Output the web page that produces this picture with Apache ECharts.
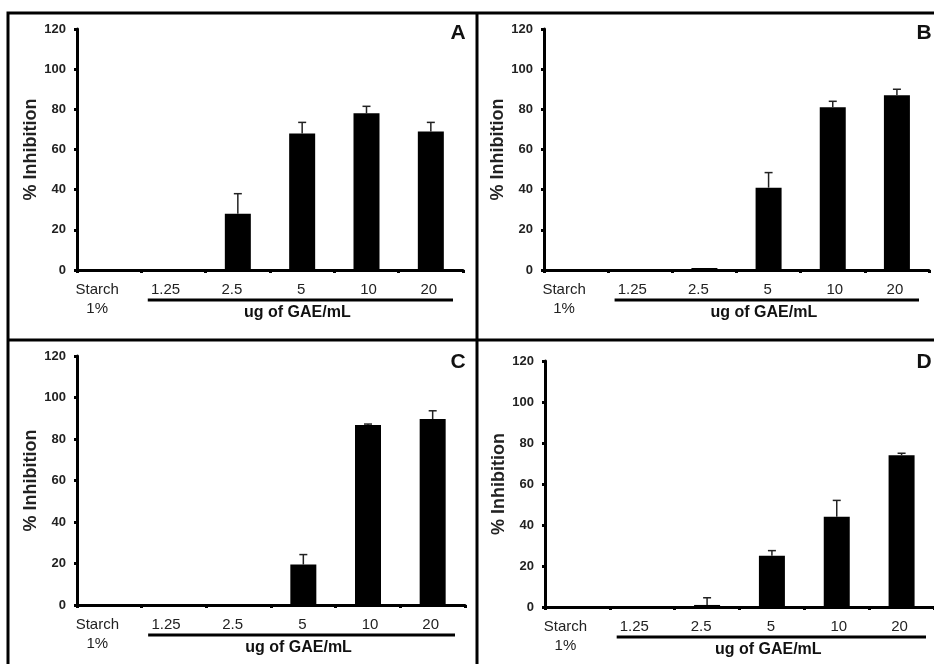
<!DOCTYPE html>
<html><head><meta charset="utf-8">
<script src="https://cdn.jsdelivr.net/npm/echarts@6/dist/echarts.min.js"></script>
<style>html,body{margin:0;padding:0;background:#fff}#c{width:934px;height:664px}</style>
</head><body><div id="c"></div>
<script>
const categories = ['Starch\n1%', '1.25', '2.5', '5', '10', '20'];
const yTicks = [0, 20, 40, 60, 80, 100, 120];
const panelNames = ['A', 'B', 'C', 'D'];
const aValues = [0, 0, 28, 68, 78, 69];
const aErrors = [0, 0, 10, 5.5, 3.5, 4.5];
const bValues = [0, 0, 1, 41, 81, 87];
const bErrors = [0, 0, 0, 7.5, 3, 3];
const cValues = [0, 0, 0.4, 19.5, 86.7, 89.6];
const cErrors = [0, 0, 0, 4.8, 0.5, 4];
const dValues = [0, 0, 1, 25, 44, 74];
const dErrors = [0, 0, 3.5, 2.5, 8, 1];
const xTitle = 'ug of GAE/mL';
const yTitle = '% Inhibition';

const values = [aValues, bValues, cValues, dValues];
const errors = [aErrors, bErrors, cErrors, dErrors];

// layout
const grids = [
  {left: 77, top: 29, width: 386, height: 241},
  {left: 544, top: 29, width: 385, height: 241},
  {left: 77, top: 356, width: 388, height: 249},
  {left: 545, top: 361, width: 391, height: 246}
];
const panelLabelPos = [[458, 33], [924, 33], [458, 362], [924, 362]];
const labelShift = [24, 16, 12, 2, -4, 4]; // right padding -> shifts centered label left by half
const FONT = '"Liberation Sans", Arial, sans-serif';

const chart = echarts.init(document.getElementById('c'), null, {renderer: 'canvas'});

const option = {
  backgroundColor: '#fff',
  animation: false,
  grid: grids.map(g => Object.assign({containLabel: false}, g)),
  xAxis: grids.map((g, i) => ({
    type: 'category', gridIndex: i,
    data: categories.map((c, k) => ({value: c, textStyle: {padding: labelShift[k] >= 0 ? [0, labelShift[k], 0, 0] : [0, 0, 0, -labelShift[k]]}})),
    boundaryGap: true,
    axisLine: {show: true, lineStyle: {color: '#000', width: 3}},
    axisTick: {show: true, length: 3, lineStyle: {color: '#000', width: 3}},
    axisLabel: {color: '#222', fontFamily: FONT, fontSize: 15, margin: 10, lineHeight: 19, interval: 0},
    splitLine: {show: false}
  })),
  yAxis: grids.map((g, i) => ({
    type: 'value', gridIndex: i, min: yTicks[0], max: yTicks[yTicks.length - 1], interval: yTicks[1] - yTicks[0],
    name: yTitle, nameLocation: 'middle', nameGap: 35,
    nameTextStyle: {color: '#222', fontFamily: FONT, fontSize: 18, fontWeight: 'bold'},
    axisLine: {show: true, lineStyle: {color: '#000', width: 3}},
    axisTick: {show: true, length: 3, lineStyle: {color: '#000', width: 3}},
    axisLabel: {color: '#222', fontFamily: FONT, fontSize: 13, fontWeight: 'bold', margin: 11},
    splitLine: {show: false}
  })),
  series: [],
  graphic: []
};

values.forEach((vals, i) => {
  option.series.push({
    type: 'bar', xAxisIndex: i, yAxisIndex: i, data: vals, barWidth: 26,
    itemStyle: {color: '#000'}, z: 2
  });
  option.series.push({
    type: 'custom', xAxisIndex: i, yAxisIndex: i, z: 3,
    data: vals.map((v, k) => [k, v, errors[i][k]]),
    renderItem: function (params, api) {
      const err = api.value(2);
      if (!err) return null;
      const p0 = api.coord([api.value(0), api.value(1)]);
      const p1 = api.coord([api.value(0), api.value(1) + err]);
      const st = {stroke: '#222', lineWidth: 1.5};
      return {type: 'group', children: [
        {type: 'line', shape: {x1: p0[0], y1: p0[1], x2: p1[0], y2: p1[1]}, style: st},
        {type: 'line', shape: {x1: p1[0] - 4, y1: p1[1], x2: p1[0] + 4, y2: p1[1]}, style: st}
      ]};
    }
  });
});

// panel frame
option.graphic.push(
  {type: 'rect', shape: {x: 8, y: 13, width: 940, height: 670}, style: {fill: null, stroke: '#000', lineWidth: 3}, z: 10},
  {type: 'line', shape: {x1: 477, y1: 13, x2: 477, y2: 680}, style: {stroke: '#000', lineWidth: 3}, z: 10},
  {type: 'line', shape: {x1: 8, y1: 340, x2: 940, y2: 340}, style: {stroke: '#000', lineWidth: 3}, z: 10}
);

grids.forEach((g, i) => {
  const cw = g.width / categories.length;
  const baseY = g.top + g.height;
  option.graphic.push({type: 'line', shape: {x1: g.left + cw * 1.1, y1: baseY + 30, x2: g.left + g.width - 10, y2: baseY + 30},
    style: {stroke: '#000', lineWidth: 3}, z: 10});
  option.graphic.push({type: 'text', x: g.left + g.width * 0.571, y: baseY + 43,
    style: {text: xTitle, font: 'bold 16px ' + FONT, fill: '#111', textAlign: 'center', textVerticalAlign: 'middle'}, z: 10});
  option.graphic.push({type: 'text', x: panelLabelPos[i][0], y: panelLabelPos[i][1],
    style: {text: panelNames[i], font: 'bold 21px ' + FONT, fill: '#111', textAlign: 'center', textVerticalAlign: 'middle'}, z: 10});
});

chart.setOption(option);
</script>
</body></html>
